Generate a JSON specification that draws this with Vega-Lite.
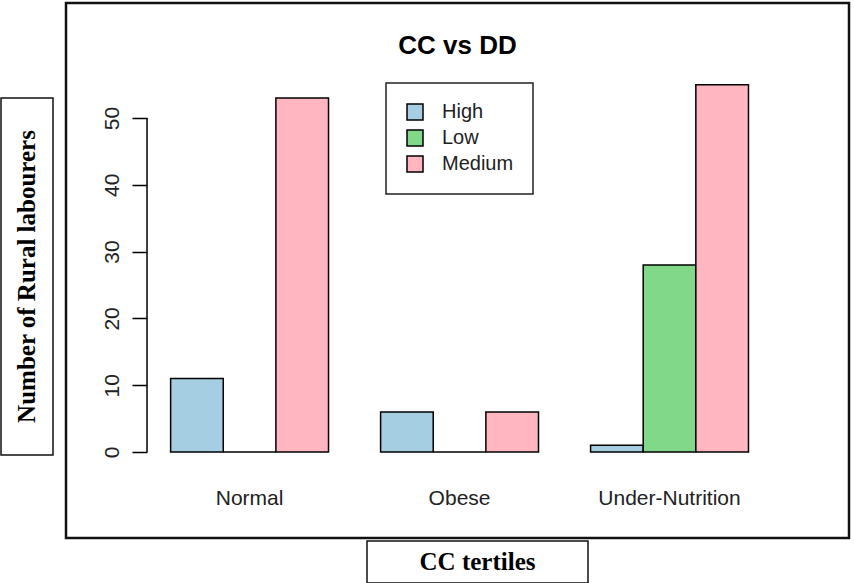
{
  "$schema": "https://vega.github.io/schema/vega-lite/v6.json",
  "background": "white",
  "padding": {"left": 0, "top": 1, "right": 0, "bottom": 0},
  "config": {"view": {"stroke": null}, "font": "Liberation Sans", "legend": {"strokeWidth": 1.5}},
  "spacing": 0,
  "vconcat": [
    {
      "spacing": 10,
      "resolve": {"scale": {"color": "independent"}},
      "hconcat": [
        {
          "spacing": 0,
          "vconcat": [
            {"width": 52, "height": 94, "data": {"values": []}, "mark": "point", "encoding": {}},
            {
              "width": 52, "height": 357,
              "view": {"stroke": "#111", "strokeWidth": 1.5},
              "data": {"values": [{"t": "Number of Rural labourers"}]},
              "mark": {"type": "text", "angle": 270, "font": "Liberation Serif", "fontWeight": "bold", "fontSize": 25, "align": "center", "baseline": "middle", "color": "black"},
              "encoding": {"text": {"field": "t"}}
            }
          ]
        },
        {
          "width": 783, "height": 535,
          "view": {"stroke": "#111", "strokeWidth": 2.5},
          "title": {"text": "CC vs DD", "fontSize": 26, "fontWeight": "bold", "font": "Liberation Sans", "anchor": "middle", "baseline": "alphabetic", "offset": -77, "color": "black"},
          "data": {
            "values": [
              {"group": "Normal", "level": "High", "n": 11},
              {"group": "Normal", "level": "Low", "n": 0},
              {"group": "Normal", "level": "Medium", "n": 53},
              {"group": "Obese", "level": "High", "n": 6},
              {"group": "Obese", "level": "Low", "n": 0},
              {"group": "Obese", "level": "Medium", "n": 6},
              {"group": "Under-Nutrition", "level": "High", "n": 1},
              {"group": "Under-Nutrition", "level": "Low", "n": 28},
              {"group": "Under-Nutrition", "level": "Medium", "n": 55}
            ]
          },
          "layer": [
            {
              "mark": {"type": "bar", "stroke": "black", "strokeWidth": 1.5},
              "encoding": {
                "x": {
                  "field": "group", "type": "nominal",
                  "sort": ["Normal", "Obese", "Under-Nutrition"],
                  "scale": {"paddingInner": 0.248, "paddingOuter": 0.4885, "align": 0.51},
                  "axis": {"title": null, "orient": "bottom", "offset": -34, "domain": false, "ticks": false, "tickSize": 0, "grid": false, "labelPadding": 0, "labelBaseline": "alphabetic", "labelAngle": 0, "labelFontSize": 21, "labelColor": "#222"}
                },
                "xOffset": {
                  "field": "level", "type": "nominal",
                  "sort": ["High", "Low", "Medium"],
                  "scale": {"paddingInner": 0, "paddingOuter": 0}
                },
                "y": {
                  "field": "n", "type": "quantitative",
                  "scale": {"domain": [-12.87, 67.22], "nice": false, "zero": false},
                  "axis": {"title": null, "values": [0, 10, 20, 30, 40, 50], "offset": -81, "domain": false, "grid": false, "ticks": true, "tickSize": 15, "tickWidth": 1.5, "tickColor": "black", "labelAngle": 270, "labelAlign": "center", "labelBaseline": "alphabetic", "labelPadding": 14, "labelFontSize": 21, "labelColor": "#222"}
                },
                "y2": {"datum": 0},
                "color": {
                  "field": "level", "type": "nominal",
                  "scale": {"domain": ["High", "Low", "Medium"], "range": ["#a6cee3", "#80d888", "#ffb6c1"]},
                  "legend": {"title": null, "orient": "none", "legendX": 320, "legendY": 80, "strokeColor": "#222", "fillColor": "white", "padding": 19, "symbolType": "square", "symbolSize": 256, "symbolStrokeColor": "black", "symbolStrokeWidth": 1.5, "symbolOpacity": 1, "labelFontSize": 20, "labelOffset": 17, "rowPadding": 4, "labelColor": "#222"}
                }
              }
            },
            {
              "data": {"values": [{}]},
              "mark": {"type": "rule", "color": "black", "strokeWidth": 1.5},
              "encoding": {
                "x": {"datum": "Normal", "bandPosition": -0.1495},
                "y": {"datum": 0},
                "y2": {"datum": 50}
              }
            }
          ]
        }
      ]
    },
    {
      "spacing": 0,
      "hconcat": [
        {"width": 365, "height": 42, "data": {"values": []}, "mark": "point", "encoding": {}},
        {
          "width": 221, "height": 42,
          "view": {"stroke": "#111", "strokeWidth": 1.5},
          "data": {"values": [{"t": "CC tertiles"}]},
          "mark": {"type": "text", "font": "Liberation Serif", "fontWeight": "bold", "fontSize": 25, "align": "center", "baseline": "middle", "color": "black"},
          "encoding": {"text": {"field": "t"}}
        }
      ]
    }
  ]
}
